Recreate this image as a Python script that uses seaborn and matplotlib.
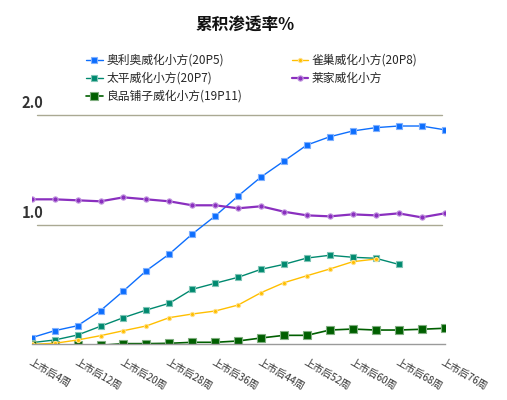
import numpy as np
import pandas as pd
import seaborn as sns
import matplotlib.pyplot as plt

# data
weeks = [4, 8, 12, 16, 20, 24, 28, 32, 36, 40, 44, 48, 52, 56, 60, 64, 68, 72, 76]
tick_weeks = [4, 12, 20, 28, 36, 44, 52, 60, 68, 76]
tick_labels = ['上市后%d周' % w for w in tick_weeks]

oreo = [-0.016, 0.047, 0.092, 0.228, 0.406, 0.590, 0.740, 0.921, 1.084, 1.265,
        1.437, 1.581, 1.726, 1.801, 1.853, 1.883, 1.898, 1.898, 1.864]
nestle = [-0.076, -0.067, -0.037, 0.002, 0.047, 0.090, 0.165, 0.198, 0.225, 0.279,
          0.391, 0.481, 0.544, 0.605, 0.671, 0.695]
taiping = [-0.061, -0.037, 0.008, 0.087, 0.165, 0.234, 0.295, 0.421, 0.476, 0.530,
           0.602, 0.647, 0.704, 0.729, 0.711, 0.702, 0.647]
laijia = [1.235, 1.235, 1.226, 1.217, 1.253, 1.235, 1.217, 1.181, 1.181, 1.154,
          1.172, 1.123, 1.090, 1.081, 1.099, 1.090, 1.108, 1.072, 1.108]
liangpin = [-0.085, -0.085, -0.085, -0.085, -0.070, -0.070, -0.067, -0.058, -0.058, -0.046,
            -0.019, 0.005, 0.005, 0.053, 0.062, 0.053, 0.053, 0.060, 0.069]

names = ['奥利奥威化小方(20P5)', '太平威化小方(20P7)', '良品铺子威化小方(19P11)',
         '雀巢威化小方(20P8)', '莱家威化小方']
values = [oreo, taiping, liangpin, nestle, laijia]
colors = ['#0d6efd', '#00896f', '#005f00', '#ffbf00', '#8a2fbf']
edge = ['#7fb0ff', '#7fc4b6', '#7fae7f', '#ffe08a', '#c49be0']
markers = ['s', 's', 's', 'o', 'o']
msizes = [3.8, 4.8, 5.2, 3.0, 3.8]
lws = [1.0, 1.0, 1.2, 1.0, 1.6]

sns.set_style('white')
plt.rcParams['font.family'] = ['Noto Sans CJK SC', 'DejaVu Sans']

fig = plt.figure(figsize=(5.07, 4), dpi=100)
ax = fig.add_axes([31.7 / 507, (400 - 344.3) / 400, 412.8 / 507, 235.1 / 400])

for name, vals, c, ec, m, ms, lw in zip(names, values, colors, edge, markers, msizes, lws):
    df = pd.DataFrame({'week': weeks[:len(vals)], 'val': vals})
    sns.lineplot(data=df, x='week', y='val', ax=ax, color=c, marker=m, markersize=ms,
                 markeredgecolor=ec, markeredgewidth=0.8, linewidth=lw, label=name)

ax.set_xlim(4, 76)
ax.set_ylim(-0.076, 2.05)

for y in [1.0, 2.0]:
    ax.axhline(y, xmin=0.012, xmax=0.993, color='#aaa993', lw=1, zorder=0)
    ax.annotate('%.1f' % y, xy=(0, y), xycoords=('axes fraction', 'data'),
                xytext=(-7, 5), textcoords='offset points', ha='left', va='baseline',
                fontsize=10.5, fontweight='bold', color='#333333')

ax.set_yticks([])
ax.set_xticks(tick_weeks)
ax.set_xticklabels(tick_labels, rotation=-30, ha='left', va='top',
                   rotation_mode='anchor', fontsize=7.3, color='#333333')
ax.tick_params(axis='x', length=0, pad=9)
ax.set_xlabel('')
ax.set_ylabel('')
for s in ['top', 'right', 'left']:
    ax.spines[s].set_visible(False)
ax.spines['bottom'].set_color('#9a9a9a')
ax.spines['bottom'].set_linewidth(1)

ax.get_legend().remove()
h, l = ax.get_legend_handles_labels()
fig.legend(h, l, loc='upper left', bbox_to_anchor=(86 / 507, 1 - 54 / 400), ncol=2,
           frameon=False, fontsize=8.5, handlelength=1.4, handletextpad=0.3,
           labelspacing=0.42, columnspacing=4.2, borderaxespad=0, borderpad=0)

fig.text(245 / 507, 1 - 26 / 400, '累积渗透率%', ha='center', va='center',
         fontsize=12, fontweight='bold', color='#111111')

plt.savefig('out.png', dpi=100)
